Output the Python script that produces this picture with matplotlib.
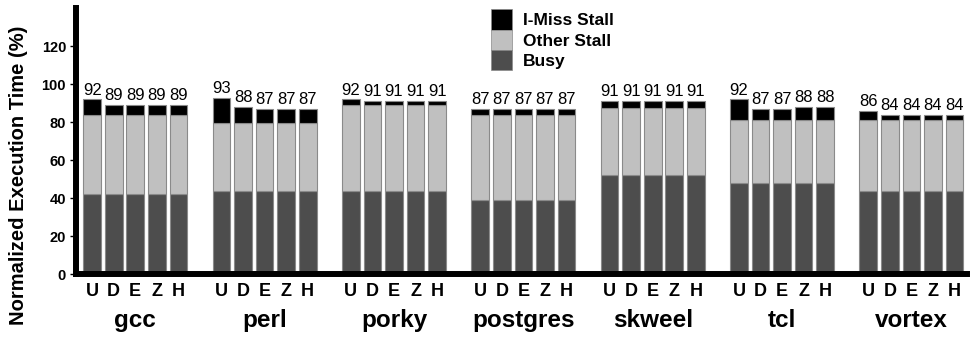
import matplotlib
matplotlib.use("Agg")
import matplotlib.pyplot as plt
import numpy as np
from matplotlib.patches import Patch

plt.rcParams['font.family'] = ['Liberation Sans', 'DejaVu Sans']

benchmarks = ["gcc", "perl", "porky", "postgres", "skweel", "tcl", "vortex"]
configs = ["U", "D", "E", "Z", "H"]

busy = [42.5, 44.0, 44.0, 39.3, 52.3, 48.0, 43.8]
other = [41.5, 35.5, 45.0, 44.4, 35.4, 33.4, 37.2]
totals = [
    [92, 89, 89, 89, 89],
    [93, 88, 87, 87, 87],
    [92, 91, 91, 91, 91],
    [87, 87, 87, 87, 87],
    [91, 91, 91, 91, 91],
    [92, 87, 87, 88, 88],
    [86, 84, 84, 84, 84],
]

c_busy = "#4d4d4d"
c_other = "#c0c0c0"
c_miss = "#000000"
edge = "#8a8a8a"

fig = plt.figure(figsize=(9.72, 3.38), dpi=100)
ax = fig.add_axes([0.0777, 0.1879, 0.917, 0.788])

width = 0.82
xs, ticklabels = [], []
for g, b in enumerate(benchmarks):
    for j, c in enumerate(configs):
        x = g * 6 + j
        bu = busy[g]
        ot = other[g]
        tot = totals[g][j]
        mi = tot - bu - ot
        ax.bar(x, bu, width, color=c_busy, edgecolor=edge, linewidth=0.8)
        ax.bar(x, ot, width, bottom=bu, color=c_other, edgecolor=edge, linewidth=0.8)
        ax.bar(x, mi, width, bottom=bu + ot, color=c_miss, edgecolor=edge, linewidth=0.8)
        ax.text(x, tot + 1.0, str(tot), ha="center", va="bottom", fontsize=12)
        xs.append(x)
        ticklabels.append(c)
    ax.text(g * 6 + 2, -0.197, b, transform=ax.get_xaxis_transform(),
            ha="center", va="baseline", fontsize=17.5, fontweight="bold")

ax.set_xticks(xs)
ax.set_xticklabels(ticklabels, fontsize=13, fontweight="bold")
ax.tick_params(axis="x", length=0, pad=6.2)
ax.set_xlim(-0.77, 40.57)
ax.set_ylim(0, 140)
ax.set_yticks(np.arange(0, 121, 20))
ax.set_yticklabels([str(v) for v in range(0, 121, 20)], fontsize=10.5, fontweight="bold")
ax.tick_params(axis="y", direction="out", length=4.3, width=1, pad=2.5)
for s in ["top", "right"]:
    ax.spines[s].set_visible(False)
for s in ["left", "bottom"]:
    ax.spines[s].set_linewidth(4.3)
ax.set_ylabel("Normalized Execution Time (%)", fontsize=14.5, fontweight="bold")
ax.yaxis.set_label_coords(-0.053, 0.373)

handles = [Patch(facecolor=c_miss, edgecolor=edge, linewidth=0.5),
           Patch(facecolor=c_other, edgecolor=edge, linewidth=0.5),
           Patch(facecolor=c_busy, edgecolor=edge, linewidth=0.5)]
ax.legend(handles, ["I-Miss Stall", "Other Stall", "Busy"], loc="upper left",
          bbox_to_anchor=(0.466, 0.995), frameon=False, borderpad=0,
          prop={"weight": "bold", "size": 12.5}, handlelength=1.2, handleheight=1.42,
          labelspacing=0.0, handletextpad=0.63, borderaxespad=0)

fig.savefig("out.png", dpi=100)
